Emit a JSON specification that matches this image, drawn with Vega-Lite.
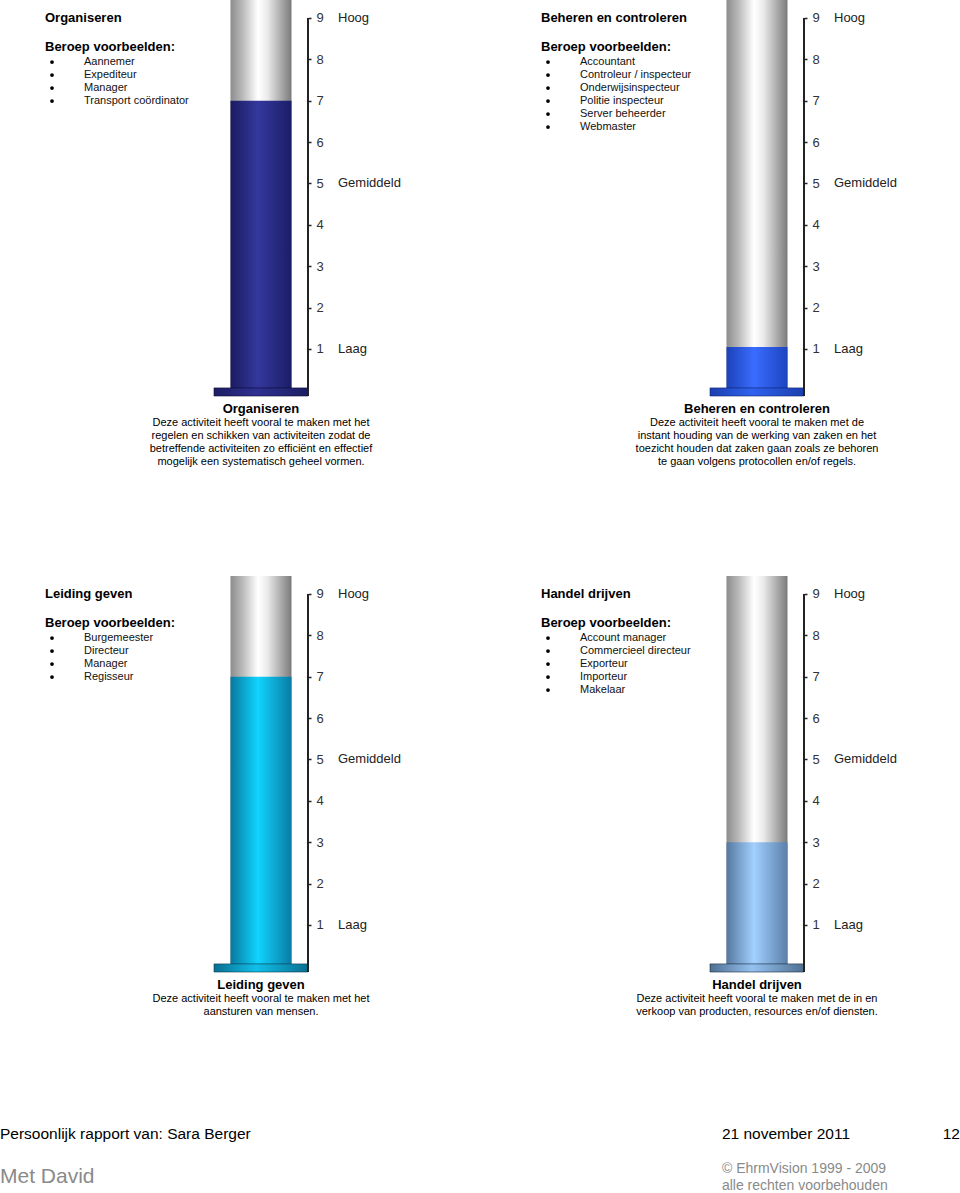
{
  "$schema": "https://vega.github.io/schema/vega-lite/v6.json",
  "padding": 0,
  "background": "#ffffff",
  "config": {"view": {"stroke": null}, "font": "Liberation Sans", "text": {"font": "Liberation Sans"}},
  "datasets": {
    "scores": [
      {"activiteit": "Organiseren", "score": 7},
      {"activiteit": "Beheren en controleren", "score": 1.05},
      {"activiteit": "Leiding geven", "score": 7},
      {"activiteit": "Handel drijven", "score": 3}
    ],
    "niveaus": [
      {"score": 9, "niveau": "Hoog"},
      {"score": 5, "niveau": "Gemiddeld"},
      {"score": 1, "niveau": "Laag"}
    ],
    "voorbeelden": [
      {"activiteit": "Organiseren", "volgorde": 1, "beroep": "Aannemer"},
      {"activiteit": "Organiseren", "volgorde": 2, "beroep": "Expediteur"},
      {"activiteit": "Organiseren", "volgorde": 3, "beroep": "Manager"},
      {"activiteit": "Organiseren", "volgorde": 4, "beroep": "Transport coördinator"},
      {"activiteit": "Beheren en controleren", "volgorde": 1, "beroep": "Accountant"},
      {"activiteit": "Beheren en controleren", "volgorde": 2, "beroep": "Controleur / inspecteur"},
      {"activiteit": "Beheren en controleren", "volgorde": 3, "beroep": "Onderwijsinspecteur"},
      {"activiteit": "Beheren en controleren", "volgorde": 4, "beroep": "Politie inspecteur"},
      {"activiteit": "Beheren en controleren", "volgorde": 5, "beroep": "Server beheerder"},
      {"activiteit": "Beheren en controleren", "volgorde": 6, "beroep": "Webmaster"},
      {"activiteit": "Leiding geven", "volgorde": 1, "beroep": "Burgemeester"},
      {"activiteit": "Leiding geven", "volgorde": 2, "beroep": "Directeur"},
      {"activiteit": "Leiding geven", "volgorde": 3, "beroep": "Manager"},
      {"activiteit": "Leiding geven", "volgorde": 4, "beroep": "Regisseur"},
      {"activiteit": "Handel drijven", "volgorde": 1, "beroep": "Account manager"},
      {"activiteit": "Handel drijven", "volgorde": 2, "beroep": "Commercieel directeur"},
      {"activiteit": "Handel drijven", "volgorde": 3, "beroep": "Exporteur"},
      {"activiteit": "Handel drijven", "volgorde": 4, "beroep": "Importeur"},
      {"activiteit": "Handel drijven", "volgorde": 5, "beroep": "Makelaar"}
    ]
  },
  "spacing": 109,
  "vconcat": [
    {
      "spacing": 95,
      "hconcat": [
        {
          "spacing": 0, "bounds": "flush",
          "hconcat": [
            {
              "width": 214, "height": 396,
              "layer": [
                {"data": {"name": "scores"}, "transform": [{"filter": "datum.activiteit == 'Organiseren'"}],
                 "mark": {"type": "text", "align": "left", "baseline": "middle", "fontSize": 13, "fontWeight": "bold", "color": "#000"},
                 "encoding": {"x": {"datum": 0.2103, "type": "quantitative", "scale": {"domain": [0, 1]}, "axis": null},
                              "y": {"datum": -2.385, "type": "quantitative", "scale": {"domain": [-3.77, 26.69], "reverse": true, "nice": false, "zero": false}, "axis": null},
                              "text": {"field": "activiteit"}}},
                {"data": {"name": "scores"}, "transform": [{"filter": "datum.activiteit == 'Organiseren'"}],
                 "mark": {"type": "text", "text": "Beroep voorbeelden:", "align": "left", "baseline": "middle", "fontSize": 13, "fontWeight": "bold", "color": "#000"},
                 "encoding": {"x": {"datum": 0.2103, "type": "quantitative", "scale": {"domain": [0, 1]}, "axis": null},
                              "y": {"datum": -0.154, "type": "quantitative", "scale": {"domain": [-3.77, 26.69], "reverse": true, "nice": false, "zero": false}, "axis": null}}},
                {"data": {"name": "voorbeelden"}, "transform": [{"filter": "datum.activiteit == 'Organiseren'"}],
                 "mark": {"type": "point", "shape": "circle", "filled": true, "size": 14, "color": "#000", "opacity": 1},
                 "encoding": {"x": {"datum": 0.243, "type": "quantitative", "scale": {"domain": [0, 1]}, "axis": null},
                              "y": {"field": "volgorde", "type": "quantitative", "scale": {"domain": [-3.77, 26.69], "reverse": true, "nice": false, "zero": false}, "axis": null}}},
                {"data": {"name": "voorbeelden"}, "transform": [{"filter": "datum.activiteit == 'Organiseren'"}],
                 "mark": {"type": "text", "align": "left", "baseline": "middle", "fontSize": 11, "color": "#111"},
                 "encoding": {"x": {"datum": 0.3925, "type": "quantitative", "scale": {"domain": [0, 1]}, "axis": null},
                              "y": {"field": "volgorde", "type": "quantitative", "scale": {"domain": [-3.77, 26.69], "reverse": true, "nice": false, "zero": false}, "axis": null},
                              "text": {"field": "beroep"}}}
              ]
            },
            {
              "width": 94, "height": 396,
              "title": {"text": "Organiseren", "subtitle": ["Deze activiteit heeft vooral te maken met het", "regelen en schikken van activiteiten zodat de", "betreffende activiteiten zo efficiënt en effectief", "mogelijk een systematisch geheel vormen."],
                        "orient": "bottom", "anchor": "middle", "frame": "group", "font": "Liberation Sans", "fontSize": 13, "fontWeight": "bold", "color": "#000",
                        "subtitleFont": "Liberation Sans", "subtitleFontSize": 11, "subtitleColor": "#000", "subtitleLineHeight": 13, "subtitlePadding": 1, "offset": 6},
              "layer": [
                {"data": {"name": "scores"}, "transform": [{"filter": "datum.activiteit == 'Organiseren'"}],
                 "mark": {"type": "bar", "width": 61, "color": {"gradient": "linear", "stops": [{"offset": 0, "color": "#8c8c8c"}, {"offset": 0.2, "color": "#bababa"}, {"offset": 0.45, "color": "#ffffff"}, {"offset": 0.6, "color": "#ececec"}, {"offset": 1, "color": "#7a7a7a"}]}},
                 "encoding": {"x": {"field": "activiteit", "type": "nominal", "scale": {"paddingInner": 0, "paddingOuter": 0}, "axis": null},
                              "y": {"datum": 0, "type": "quantitative", "scale": {"domain": [-0.136, 9.435], "nice": false, "zero": false},
                                    "axis": {"orient": "right", "values": [1, 2, 3, 4, 5, 6, 7, 8, 9], "domain": false, "grid": false, "tickSize": 3, "tickColor": "#222", "tickWidth": 1.5, "labelPadding": 5, "labelFontSize": 13, "labelColor": "#333", "labelFont": "Liberation Sans", "title": null}},
                              "y2": {"datum": 9.435}}},
                {"data": {"name": "scores"}, "transform": [{"filter": "datum.activiteit == 'Organiseren'"}],
                 "mark": {"type": "bar", "width": 61, "color": {"gradient": "linear", "stops": [{"offset": 0, "color": "#1a1b5e"}, {"offset": 0.45, "color": "#34389e"}, {"offset": 1, "color": "#1c1d66"}]}},
                 "encoding": {"x": {"field": "activiteit", "type": "nominal"},
                              "y": {"field": "score", "type": "quantitative", "scale": {"domain": [-0.136, 9.435], "nice": false, "zero": false}},
                              "y2": {"datum": 0}}},
                {"data": {"name": "scores"}, "transform": [{"filter": "datum.activiteit == 'Organiseren'"}],
                 "mark": {"type": "bar", "stroke": "#0c0c30", "strokeWidth": 0.6, "color": {"gradient": "linear", "stops": [{"offset": 0, "color": "#1c1d62"}, {"offset": 0.45, "color": "#2e3192"}, {"offset": 1, "color": "#1c1d62"}]}},
                 "encoding": {"x": {"field": "activiteit", "type": "nominal"},
                              "y": {"datum": 0.06, "type": "quantitative", "scale": {"domain": [-0.136, 9.435], "nice": false, "zero": false}},
                              "y2": {"datum": -0.136}}},
                {"data": {"name": "scores"}, "transform": [{"filter": "datum.activiteit == 'Organiseren'"}],
                 "mark": {"type": "rule", "color": "#222", "strokeWidth": 2},
                 "encoding": {"x": {"field": "activiteit", "type": "nominal", "bandPosition": 1},
                              "y": {"datum": 9, "type": "quantitative", "scale": {"domain": [-0.136, 9.435], "nice": false, "zero": false}},
                              "y2": {"datum": -0.136}}},
                {"data": {"name": "niveaus"},
                 "mark": {"type": "text", "align": "left", "baseline": "middle", "dx": 30, "fontSize": 13, "color": "#222"},
                 "encoding": {"x": {"datum": "Organiseren", "type": "nominal", "bandPosition": 1},
                              "y": {"field": "score", "type": "quantitative", "scale": {"domain": [-0.136, 9.435], "nice": false, "zero": false}},
                              "text": {"field": "niveau"}}}
              ]
            }
          ]
        },
        {
          "spacing": 0, "bounds": "flush",
          "hconcat": [
            {
              "width": 214, "height": 396,
              "layer": [
                {"data": {"name": "scores"}, "transform": [{"filter": "datum.activiteit == 'Beheren en controleren'"}],
                 "mark": {"type": "text", "align": "left", "baseline": "middle", "fontSize": 13, "fontWeight": "bold", "color": "#000"},
                 "encoding": {"x": {"datum": 0.2103, "type": "quantitative", "scale": {"domain": [0, 1]}, "axis": null},
                              "y": {"datum": -2.385, "type": "quantitative", "scale": {"domain": [-3.77, 26.69], "reverse": true, "nice": false, "zero": false}, "axis": null},
                              "text": {"field": "activiteit"}}},
                {"data": {"name": "scores"}, "transform": [{"filter": "datum.activiteit == 'Beheren en controleren'"}],
                 "mark": {"type": "text", "text": "Beroep voorbeelden:", "align": "left", "baseline": "middle", "fontSize": 13, "fontWeight": "bold", "color": "#000"},
                 "encoding": {"x": {"datum": 0.2103, "type": "quantitative", "scale": {"domain": [0, 1]}, "axis": null},
                              "y": {"datum": -0.154, "type": "quantitative", "scale": {"domain": [-3.77, 26.69], "reverse": true, "nice": false, "zero": false}, "axis": null}}},
                {"data": {"name": "voorbeelden"}, "transform": [{"filter": "datum.activiteit == 'Beheren en controleren'"}],
                 "mark": {"type": "point", "shape": "circle", "filled": true, "size": 14, "color": "#000", "opacity": 1},
                 "encoding": {"x": {"datum": 0.243, "type": "quantitative", "scale": {"domain": [0, 1]}, "axis": null},
                              "y": {"field": "volgorde", "type": "quantitative", "scale": {"domain": [-3.77, 26.69], "reverse": true, "nice": false, "zero": false}, "axis": null}}},
                {"data": {"name": "voorbeelden"}, "transform": [{"filter": "datum.activiteit == 'Beheren en controleren'"}],
                 "mark": {"type": "text", "align": "left", "baseline": "middle", "fontSize": 11, "color": "#111"},
                 "encoding": {"x": {"datum": 0.3925, "type": "quantitative", "scale": {"domain": [0, 1]}, "axis": null},
                              "y": {"field": "volgorde", "type": "quantitative", "scale": {"domain": [-3.77, 26.69], "reverse": true, "nice": false, "zero": false}, "axis": null},
                              "text": {"field": "beroep"}}}
              ]
            },
            {
              "width": 94, "height": 396,
              "title": {"text": "Beheren en controleren", "subtitle": ["Deze activiteit heeft vooral te maken met de", "instant houding van de werking van zaken en het", "toezicht houden dat zaken gaan zoals ze behoren", "te gaan volgens protocollen en/of regels."],
                        "orient": "bottom", "anchor": "middle", "frame": "group", "font": "Liberation Sans", "fontSize": 13, "fontWeight": "bold", "color": "#000",
                        "subtitleFont": "Liberation Sans", "subtitleFontSize": 11, "subtitleColor": "#000", "subtitleLineHeight": 13, "subtitlePadding": 1, "offset": 6},
              "layer": [
                {"data": {"name": "scores"}, "transform": [{"filter": "datum.activiteit == 'Beheren en controleren'"}],
                 "mark": {"type": "bar", "width": 61, "color": {"gradient": "linear", "stops": [{"offset": 0, "color": "#8c8c8c"}, {"offset": 0.2, "color": "#bababa"}, {"offset": 0.45, "color": "#ffffff"}, {"offset": 0.6, "color": "#ececec"}, {"offset": 1, "color": "#7a7a7a"}]}},
                 "encoding": {"x": {"field": "activiteit", "type": "nominal", "scale": {"paddingInner": 0, "paddingOuter": 0}, "axis": null},
                              "y": {"datum": 0, "type": "quantitative", "scale": {"domain": [-0.136, 9.435], "nice": false, "zero": false},
                                    "axis": {"orient": "right", "values": [1, 2, 3, 4, 5, 6, 7, 8, 9], "domain": false, "grid": false, "tickSize": 3, "tickColor": "#222", "tickWidth": 1.5, "labelPadding": 5, "labelFontSize": 13, "labelColor": "#333", "labelFont": "Liberation Sans", "title": null}},
                              "y2": {"datum": 9.435}}},
                {"data": {"name": "scores"}, "transform": [{"filter": "datum.activiteit == 'Beheren en controleren'"}],
                 "mark": {"type": "bar", "width": 61, "color": {"gradient": "linear", "stops": [{"offset": 0, "color": "#1b42b8"}, {"offset": 0.45, "color": "#3a6cff"}, {"offset": 1, "color": "#1c45c0"}]}},
                 "encoding": {"x": {"field": "activiteit", "type": "nominal"},
                              "y": {"field": "score", "type": "quantitative", "scale": {"domain": [-0.136, 9.435], "nice": false, "zero": false}},
                              "y2": {"datum": 0}}},
                {"data": {"name": "scores"}, "transform": [{"filter": "datum.activiteit == 'Beheren en controleren'"}],
                 "mark": {"type": "bar", "stroke": "#0d2170", "strokeWidth": 0.6, "color": {"gradient": "linear", "stops": [{"offset": 0, "color": "#1a3fae"}, {"offset": 0.45, "color": "#2f62ee"}, {"offset": 1, "color": "#1a3fae"}]}},
                 "encoding": {"x": {"field": "activiteit", "type": "nominal"},
                              "y": {"datum": 0.06, "type": "quantitative", "scale": {"domain": [-0.136, 9.435], "nice": false, "zero": false}},
                              "y2": {"datum": -0.136}}},
                {"data": {"name": "scores"}, "transform": [{"filter": "datum.activiteit == 'Beheren en controleren'"}],
                 "mark": {"type": "rule", "color": "#222", "strokeWidth": 2},
                 "encoding": {"x": {"field": "activiteit", "type": "nominal", "bandPosition": 1},
                              "y": {"datum": 9, "type": "quantitative", "scale": {"domain": [-0.136, 9.435], "nice": false, "zero": false}},
                              "y2": {"datum": -0.136}}},
                {"data": {"name": "niveaus"},
                 "mark": {"type": "text", "align": "left", "baseline": "middle", "dx": 30, "fontSize": 13, "color": "#222"},
                 "encoding": {"x": {"datum": "Beheren en controleren", "type": "nominal", "bandPosition": 1},
                              "y": {"field": "score", "type": "quantitative", "scale": {"domain": [-0.136, 9.435], "nice": false, "zero": false}},
                              "text": {"field": "niveau"}}}
              ]
            }
          ]
        }
      ]
    },
    {
      "spacing": 95,
      "hconcat": [
        {
          "spacing": 0, "bounds": "flush",
          "hconcat": [
            {
              "width": 214, "height": 396,
              "layer": [
                {"data": {"name": "scores"}, "transform": [{"filter": "datum.activiteit == 'Leiding geven'"}],
                 "mark": {"type": "text", "align": "left", "baseline": "middle", "fontSize": 13, "fontWeight": "bold", "color": "#000"},
                 "encoding": {"x": {"datum": 0.2103, "type": "quantitative", "scale": {"domain": [0, 1]}, "axis": null},
                              "y": {"datum": -2.385, "type": "quantitative", "scale": {"domain": [-3.77, 26.69], "reverse": true, "nice": false, "zero": false}, "axis": null},
                              "text": {"field": "activiteit"}}},
                {"data": {"name": "scores"}, "transform": [{"filter": "datum.activiteit == 'Leiding geven'"}],
                 "mark": {"type": "text", "text": "Beroep voorbeelden:", "align": "left", "baseline": "middle", "fontSize": 13, "fontWeight": "bold", "color": "#000"},
                 "encoding": {"x": {"datum": 0.2103, "type": "quantitative", "scale": {"domain": [0, 1]}, "axis": null},
                              "y": {"datum": -0.154, "type": "quantitative", "scale": {"domain": [-3.77, 26.69], "reverse": true, "nice": false, "zero": false}, "axis": null}}},
                {"data": {"name": "voorbeelden"}, "transform": [{"filter": "datum.activiteit == 'Leiding geven'"}],
                 "mark": {"type": "point", "shape": "circle", "filled": true, "size": 14, "color": "#000", "opacity": 1},
                 "encoding": {"x": {"datum": 0.243, "type": "quantitative", "scale": {"domain": [0, 1]}, "axis": null},
                              "y": {"field": "volgorde", "type": "quantitative", "scale": {"domain": [-3.77, 26.69], "reverse": true, "nice": false, "zero": false}, "axis": null}}},
                {"data": {"name": "voorbeelden"}, "transform": [{"filter": "datum.activiteit == 'Leiding geven'"}],
                 "mark": {"type": "text", "align": "left", "baseline": "middle", "fontSize": 11, "color": "#111"},
                 "encoding": {"x": {"datum": 0.3925, "type": "quantitative", "scale": {"domain": [0, 1]}, "axis": null},
                              "y": {"field": "volgorde", "type": "quantitative", "scale": {"domain": [-3.77, 26.69], "reverse": true, "nice": false, "zero": false}, "axis": null},
                              "text": {"field": "beroep"}}}
              ]
            },
            {
              "width": 94, "height": 396,
              "title": {"text": "Leiding geven", "subtitle": ["Deze activiteit heeft vooral te maken met het", "aansturen van mensen."],
                        "orient": "bottom", "anchor": "middle", "frame": "group", "font": "Liberation Sans", "fontSize": 13, "fontWeight": "bold", "color": "#000",
                        "subtitleFont": "Liberation Sans", "subtitleFontSize": 11, "subtitleColor": "#000", "subtitleLineHeight": 13, "subtitlePadding": 1, "offset": 6},
              "layer": [
                {"data": {"name": "scores"}, "transform": [{"filter": "datum.activiteit == 'Leiding geven'"}],
                 "mark": {"type": "bar", "width": 61, "color": {"gradient": "linear", "stops": [{"offset": 0, "color": "#8c8c8c"}, {"offset": 0.2, "color": "#bababa"}, {"offset": 0.45, "color": "#ffffff"}, {"offset": 0.6, "color": "#ececec"}, {"offset": 1, "color": "#7a7a7a"}]}},
                 "encoding": {"x": {"field": "activiteit", "type": "nominal", "scale": {"paddingInner": 0, "paddingOuter": 0}, "axis": null},
                              "y": {"datum": 0, "type": "quantitative", "scale": {"domain": [-0.136, 9.435], "nice": false, "zero": false},
                                    "axis": {"orient": "right", "values": [1, 2, 3, 4, 5, 6, 7, 8, 9], "domain": false, "grid": false, "tickSize": 3, "tickColor": "#222", "tickWidth": 1.5, "labelPadding": 5, "labelFontSize": 13, "labelColor": "#333", "labelFont": "Liberation Sans", "title": null}},
                              "y2": {"datum": 9.435}}},
                {"data": {"name": "scores"}, "transform": [{"filter": "datum.activiteit == 'Leiding geven'"}],
                 "mark": {"type": "bar", "width": 61, "color": {"gradient": "linear", "stops": [{"offset": 0, "color": "#08789e"}, {"offset": 0.45, "color": "#10d4ff"}, {"offset": 1, "color": "#0a7ca4"}]}},
                 "encoding": {"x": {"field": "activiteit", "type": "nominal"},
                              "y": {"field": "score", "type": "quantitative", "scale": {"domain": [-0.136, 9.435], "nice": false, "zero": false}},
                              "y2": {"datum": 0}}},
                {"data": {"name": "scores"}, "transform": [{"filter": "datum.activiteit == 'Leiding geven'"}],
                 "mark": {"type": "bar", "stroke": "#0a3a4a", "strokeWidth": 0.6, "color": {"gradient": "linear", "stops": [{"offset": 0, "color": "#0a6e90"}, {"offset": 0.45, "color": "#10c0ea"}, {"offset": 1, "color": "#0a6e90"}]}},
                 "encoding": {"x": {"field": "activiteit", "type": "nominal"},
                              "y": {"datum": 0.06, "type": "quantitative", "scale": {"domain": [-0.136, 9.435], "nice": false, "zero": false}},
                              "y2": {"datum": -0.136}}},
                {"data": {"name": "scores"}, "transform": [{"filter": "datum.activiteit == 'Leiding geven'"}],
                 "mark": {"type": "rule", "color": "#222", "strokeWidth": 2},
                 "encoding": {"x": {"field": "activiteit", "type": "nominal", "bandPosition": 1},
                              "y": {"datum": 9, "type": "quantitative", "scale": {"domain": [-0.136, 9.435], "nice": false, "zero": false}},
                              "y2": {"datum": -0.136}}},
                {"data": {"name": "niveaus"},
                 "mark": {"type": "text", "align": "left", "baseline": "middle", "dx": 30, "fontSize": 13, "color": "#222"},
                 "encoding": {"x": {"datum": "Leiding geven", "type": "nominal", "bandPosition": 1},
                              "y": {"field": "score", "type": "quantitative", "scale": {"domain": [-0.136, 9.435], "nice": false, "zero": false}},
                              "text": {"field": "niveau"}}}
              ]
            }
          ]
        },
        {
          "spacing": 0, "bounds": "flush",
          "hconcat": [
            {
              "width": 214, "height": 396,
              "layer": [
                {"data": {"name": "scores"}, "transform": [{"filter": "datum.activiteit == 'Handel drijven'"}],
                 "mark": {"type": "text", "align": "left", "baseline": "middle", "fontSize": 13, "fontWeight": "bold", "color": "#000"},
                 "encoding": {"x": {"datum": 0.2103, "type": "quantitative", "scale": {"domain": [0, 1]}, "axis": null},
                              "y": {"datum": -2.385, "type": "quantitative", "scale": {"domain": [-3.77, 26.69], "reverse": true, "nice": false, "zero": false}, "axis": null},
                              "text": {"field": "activiteit"}}},
                {"data": {"name": "scores"}, "transform": [{"filter": "datum.activiteit == 'Handel drijven'"}],
                 "mark": {"type": "text", "text": "Beroep voorbeelden:", "align": "left", "baseline": "middle", "fontSize": 13, "fontWeight": "bold", "color": "#000"},
                 "encoding": {"x": {"datum": 0.2103, "type": "quantitative", "scale": {"domain": [0, 1]}, "axis": null},
                              "y": {"datum": -0.154, "type": "quantitative", "scale": {"domain": [-3.77, 26.69], "reverse": true, "nice": false, "zero": false}, "axis": null}}},
                {"data": {"name": "voorbeelden"}, "transform": [{"filter": "datum.activiteit == 'Handel drijven'"}],
                 "mark": {"type": "point", "shape": "circle", "filled": true, "size": 14, "color": "#000", "opacity": 1},
                 "encoding": {"x": {"datum": 0.243, "type": "quantitative", "scale": {"domain": [0, 1]}, "axis": null},
                              "y": {"field": "volgorde", "type": "quantitative", "scale": {"domain": [-3.77, 26.69], "reverse": true, "nice": false, "zero": false}, "axis": null}}},
                {"data": {"name": "voorbeelden"}, "transform": [{"filter": "datum.activiteit == 'Handel drijven'"}],
                 "mark": {"type": "text", "align": "left", "baseline": "middle", "fontSize": 11, "color": "#111"},
                 "encoding": {"x": {"datum": 0.3925, "type": "quantitative", "scale": {"domain": [0, 1]}, "axis": null},
                              "y": {"field": "volgorde", "type": "quantitative", "scale": {"domain": [-3.77, 26.69], "reverse": true, "nice": false, "zero": false}, "axis": null},
                              "text": {"field": "beroep"}}}
              ]
            },
            {
              "width": 94, "height": 396,
              "title": {"text": "Handel drijven", "subtitle": ["Deze activiteit heeft vooral te maken met de in en", "verkoop van producten, resources en/of diensten."],
                        "orient": "bottom", "anchor": "middle", "frame": "group", "font": "Liberation Sans", "fontSize": 13, "fontWeight": "bold", "color": "#000",
                        "subtitleFont": "Liberation Sans", "subtitleFontSize": 11, "subtitleColor": "#000", "subtitleLineHeight": 13, "subtitlePadding": 1, "offset": 6},
              "layer": [
                {"data": {"name": "scores"}, "transform": [{"filter": "datum.activiteit == 'Handel drijven'"}],
                 "mark": {"type": "bar", "width": 61, "color": {"gradient": "linear", "stops": [{"offset": 0, "color": "#8c8c8c"}, {"offset": 0.2, "color": "#bababa"}, {"offset": 0.45, "color": "#ffffff"}, {"offset": 0.6, "color": "#ececec"}, {"offset": 1, "color": "#7a7a7a"}]}},
                 "encoding": {"x": {"field": "activiteit", "type": "nominal", "scale": {"paddingInner": 0, "paddingOuter": 0}, "axis": null},
                              "y": {"datum": 0, "type": "quantitative", "scale": {"domain": [-0.136, 9.435], "nice": false, "zero": false},
                                    "axis": {"orient": "right", "values": [1, 2, 3, 4, 5, 6, 7, 8, 9], "domain": false, "grid": false, "tickSize": 3, "tickColor": "#222", "tickWidth": 1.5, "labelPadding": 5, "labelFontSize": 13, "labelColor": "#333", "labelFont": "Liberation Sans", "title": null}},
                              "y2": {"datum": 9.435}}},
                {"data": {"name": "scores"}, "transform": [{"filter": "datum.activiteit == 'Handel drijven'"}],
                 "mark": {"type": "bar", "width": 61, "color": {"gradient": "linear", "stops": [{"offset": 0, "color": "#55789f"}, {"offset": 0.45, "color": "#a2d0ff"}, {"offset": 1, "color": "#5a80aa"}]}},
                 "encoding": {"x": {"field": "activiteit", "type": "nominal"},
                              "y": {"field": "score", "type": "quantitative", "scale": {"domain": [-0.136, 9.435], "nice": false, "zero": false}},
                              "y2": {"datum": 0}}},
                {"data": {"name": "scores"}, "transform": [{"filter": "datum.activiteit == 'Handel drijven'"}],
                 "mark": {"type": "bar", "stroke": "#1a2a3a", "strokeWidth": 0.6, "color": {"gradient": "linear", "stops": [{"offset": 0, "color": "#506f92"}, {"offset": 0.45, "color": "#94c2f0"}, {"offset": 1, "color": "#506f92"}]}},
                 "encoding": {"x": {"field": "activiteit", "type": "nominal"},
                              "y": {"datum": 0.06, "type": "quantitative", "scale": {"domain": [-0.136, 9.435], "nice": false, "zero": false}},
                              "y2": {"datum": -0.136}}},
                {"data": {"name": "scores"}, "transform": [{"filter": "datum.activiteit == 'Handel drijven'"}],
                 "mark": {"type": "rule", "color": "#222", "strokeWidth": 2},
                 "encoding": {"x": {"field": "activiteit", "type": "nominal", "bandPosition": 1},
                              "y": {"datum": 9, "type": "quantitative", "scale": {"domain": [-0.136, 9.435], "nice": false, "zero": false}},
                              "y2": {"datum": -0.136}}},
                {"data": {"name": "niveaus"},
                 "mark": {"type": "text", "align": "left", "baseline": "middle", "dx": 30, "fontSize": 13, "color": "#222"},
                 "encoding": {"x": {"datum": "Handel drijven", "type": "nominal", "bandPosition": 1},
                              "y": {"field": "score", "type": "quantitative", "scale": {"domain": [-0.136, 9.435], "nice": false, "zero": false}},
                              "text": {"field": "niveau"}}}
              ]
            }
          ]
        }
      ]
    },
    {
      "width": 960, "height": 69,
      "layer": [
        {"data": {"values": [{"tekst": "Persoonlijk rapport van: Sara Berger"}]},
         "mark": {"type": "text", "align": "left", "baseline": "middle", "fontSize": 15.5, "color": "#000"},
         "encoding": {"x": {"datum": 0, "type": "quantitative", "scale": {"domain": [0, 1]}, "axis": null},
                      "y": {"datum": 0.116, "type": "quantitative", "scale": {"domain": [0, 1], "reverse": true}, "axis": null},
                      "text": {"field": "tekst"}}},
        {"data": {"values": [{"tekst": "21 november 2011"}]},
         "mark": {"type": "text", "align": "left", "baseline": "middle", "fontSize": 15.5, "color": "#000"},
         "encoding": {"x": {"datum": 0.752, "type": "quantitative", "scale": {"domain": [0, 1]}, "axis": null},
                      "y": {"datum": 0.116, "type": "quantitative", "scale": {"domain": [0, 1], "reverse": true}, "axis": null},
                      "text": {"field": "tekst"}}},
        {"data": {"values": [{"tekst": "12"}]},
         "mark": {"type": "text", "align": "right", "baseline": "middle", "fontSize": 15.5, "color": "#000"},
         "encoding": {"x": {"datum": 1, "type": "quantitative", "scale": {"domain": [0, 1]}, "axis": null},
                      "y": {"datum": 0.116, "type": "quantitative", "scale": {"domain": [0, 1], "reverse": true}, "axis": null},
                      "text": {"field": "tekst"}}},
        {"data": {"values": [{"tekst": "Met David"}]},
         "mark": {"type": "text", "align": "left", "baseline": "middle", "fontSize": 21, "color": "#8a8a8a"},
         "encoding": {"x": {"datum": 0, "type": "quantitative", "scale": {"domain": [0, 1]}, "axis": null},
                      "y": {"datum": 0.739, "type": "quantitative", "scale": {"domain": [0, 1], "reverse": true}, "axis": null},
                      "text": {"field": "tekst"}}},
        {"data": {"values": [{"tekst": "© EhrmVision 1999 - 2009"}]},
         "mark": {"type": "text", "align": "left", "baseline": "middle", "fontSize": 14, "color": "#8a8a8a"},
         "encoding": {"x": {"datum": 0.752, "type": "quantitative", "scale": {"domain": [0, 1]}, "axis": null},
                      "y": {"datum": 0.623, "type": "quantitative", "scale": {"domain": [0, 1], "reverse": true}, "axis": null},
                      "text": {"field": "tekst"}}},
        {"data": {"values": [{"tekst": "alle rechten voorbehouden"}]},
         "mark": {"type": "text", "align": "left", "baseline": "middle", "fontSize": 14, "color": "#8a8a8a"},
         "encoding": {"x": {"datum": 0.752, "type": "quantitative", "scale": {"domain": [0, 1]}, "axis": null},
                      "y": {"datum": 0.87, "type": "quantitative", "scale": {"domain": [0, 1], "reverse": true}, "axis": null},
                      "text": {"field": "tekst"}}}
      ]
    }
  ]
}
